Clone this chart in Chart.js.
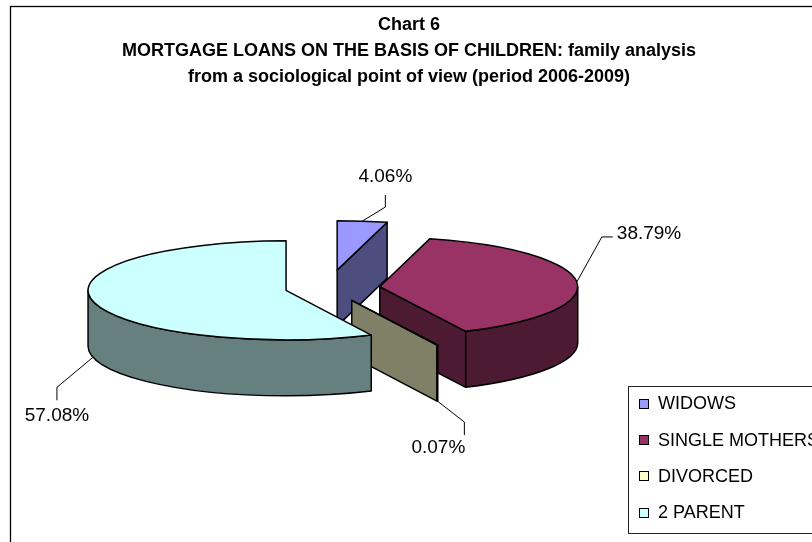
<!DOCTYPE html>
<html>
<head>
<meta charset="utf-8">
<script src="https://cdn.jsdelivr.net/npm/chart.js@4.4.1/dist/chart.umd.min.js"></script>
<style>
  html, body { margin: 0; padding: 0; background: #fff; }
  #wrap { width: 812px; height: 542px; }
</style>
</head>
<body>
<div id="wrap"><canvas id="c" width="812" height="542"></canvas></div>
<script>
// ---- data ----
const categories = ['WIDOWS', 'SINGLE MOTHERS', 'DIVORCED', '2 PARENT'];
const shares = [4.06, 38.79, 0.07, 57.08];
const titleLines = [
  'Chart 6',
  'MORTGAGE LOANS ON THE BASIS OF CHILDREN: family analysis',
  'from a sociological point of view (period 2006-2009)'
];

// ---- styling ----
const FONT = "'Liberation Sans', Arial, Helvetica, sans-serif";
const topColors = ['#9999FF', '#993366', '#FFFFCC', '#CCFFFF'];
const explodeBy = [72, 52, 55, 43];          // how far each slice is pulled out
const labelPaths = [                          // leader elbow, leader end, text anchor (relative to slice rim)
  { elbow: [23, -14], end: [23, -26], text: [23, -44], align: 'center' },
  { elbow: [25, -45], end: [36, -45], text: [40, -48], align: 'left' },
  { elbow: [27, 21],  end: [27, 34],  text: [1, 47],   align: 'center' },
  { elbow: [-36, 30], end: [-36, 43], text: [-36, 58], align: 'center' }
];

function shade(hex, f) {
  const n = parseInt(hex.slice(1), 16);
  const r = Math.round(((n >> 16) & 255) * f);
  const g = Math.round(((n >> 8) & 255) * f);
  const b = Math.round((n & 255) * f);
  return `rgb(${r},${g},${b})`;
}

// Legend drawn as its own layout box on the right side of the chart
function makeSideLegend(chart) {
  return {
    position: 'right', weight: 1000, fullSize: true, options: {},
    top: 0, left: 0, right: 0, bottom: 0, width: 0, height: 0,
    isHorizontal() { return false; },
    update(maxWidth, maxHeight) { this.width = 162; this.height = maxHeight; },
    draw() {
      const ctx = chart.ctx;
      const x0 = Math.round(this.left);
      const top = chart.height - 156, bottom = chart.height - 9;
      const colors = chart.data.datasets[0].backgroundColor;
      ctx.save();
      ctx.strokeStyle = '#222';
      ctx.lineWidth = 1;
      ctx.strokeRect(x0 + 0.5, top + 0.5, chart.width, bottom - top);
      ctx.font = `18px ${FONT}`;
      ctx.textBaseline = 'middle';
      ctx.textAlign = 'left';
      chart.data.labels.forEach((lab, i) => {
        const y = top + 17.5 + i * 36.2;
        const by = Math.round(y - 4.5);
        ctx.fillStyle = colors[i];
        ctx.fillRect(x0 + 11, by, 9, 9);
        ctx.strokeStyle = '#000';
        ctx.strokeRect(x0 + 11.5, by + 0.5, 9, 9);
        ctx.fillStyle = '#000';
        ctx.fillText(lab, x0 + 30, y + 1);
      });
      ctx.restore();
    }
  };
}

// Tilted, extruded pie built on the arcs laid out by the pie controller
const pie3d = {
  id: 'pie3d',
  beforeInit(chart) {
    if (Chart.layouts) Chart.layouts.addBox(chart, makeSideLegend(chart));
  },
  beforeDraw(chart) {
    const ctx = chart.ctx;
    ctx.save();
    ctx.fillStyle = '#fff';
    ctx.fillRect(0, 0, chart.width, chart.height);
    ctx.strokeStyle = '#000';
    ctx.lineWidth = 1.3;
    ctx.strokeRect(10.5, 6.5, chart.width + 20, chart.height + 20);
    ctx.restore();
  },
  beforeDatasetsDraw(chart, args, opts) {
    const ctx = chart.ctx;
    const meta = chart.getDatasetMeta(0);
    const tilt = opts.tilt, depth = opts.depth;
    const slices = meta.data.map((arc, i) => {
      const p = arc.getProps(['x', 'y', 'startAngle', 'endAngle', 'outerRadius'], true);
      const mid = (p.startAngle + p.endAngle) / 2;
      const d = opts.explode[i] || 0;
      return {
        i, mid,
        cx: p.x + Math.cos(mid) * d,
        cy: p.y + Math.sin(mid) * d * tilt,
        rx: p.outerRadius, ry: p.outerRadius * tilt,
        a: p.startAngle, b: p.endAngle,
        fill: arc.options.backgroundColor
      };
    });
    chart.$pie3d = slices;

    ctx.save();
    ctx.lineJoin = 'round';
    ctx.lineWidth = 1.5;
    ctx.strokeStyle = '#000';
    const paint = (fill) => { ctx.fillStyle = fill; ctx.fill(); ctx.stroke(); };

    slices.forEach(s => {
      const side = shade(s.fill, 0.5);
      const face = (t) => {
        const px = s.cx + s.rx * Math.cos(t), py = s.cy + s.ry * Math.sin(t);
        ctx.beginPath();
        ctx.moveTo(s.cx, s.cy);
        ctx.lineTo(px, py);
        ctx.lineTo(px, py + depth);
        ctx.lineTo(s.cx, s.cy + depth);
        ctx.closePath();
        paint(side);
      };
      // cut faces turned toward the viewer
      if (Math.cos(s.a) < -1e-6) face(s.a);
      if (Math.cos(s.b) > 1e-6) face(s.b);
      // front part of the curved wall
      for (let k = -1; k <= 1; k++) {
        const lo = Math.max(s.a, 2 * Math.PI * k);
        const hi = Math.min(s.b, Math.PI + 2 * Math.PI * k);
        if (hi > lo) {
          ctx.beginPath();
          ctx.ellipse(s.cx, s.cy, s.rx, s.ry, 0, lo, hi);
          ctx.ellipse(s.cx, s.cy + depth, s.rx, s.ry, 0, hi, lo, true);
          ctx.closePath();
          paint(side);
        }
      }
      // top surface
      ctx.beginPath();
      ctx.moveTo(s.cx, s.cy);
      ctx.ellipse(s.cx, s.cy, s.rx, s.ry, 0, s.a, s.b);
      ctx.closePath();
      paint(s.fill);
    });
    ctx.restore();
    return false;
  },
  afterDraw(chart, args, opts) {
    const slices = chart.$pie3d;
    if (!slices) return;
    const ctx = chart.ctx;
    const values = chart.data.datasets[0].data;
    ctx.save();
    ctx.font = `19px ${FONT}`;
    ctx.textBaseline = 'middle';
    ctx.strokeStyle = '#000';
    ctx.lineWidth = 1;
    ctx.fillStyle = '#000';
    slices.forEach(s => {
      const L = opts.labels[s.i];
      const front = Math.sin(s.mid) > 0.05;
      const ax = s.cx + s.rx * Math.cos(s.mid);
      const ay = s.cy + s.ry * Math.sin(s.mid) + (front ? opts.depth : 0);
      ctx.beginPath();
      ctx.moveTo(ax, ay);
      ctx.lineTo(ax + L.elbow[0], ay + L.elbow[1]);
      ctx.lineTo(ax + L.end[0], ay + L.end[1]);
      ctx.stroke();
      ctx.textAlign = L.align;
      ctx.fillText(values[s.i].toFixed(2) + '%', ax + L.text[0], ay + L.text[1]);
    });
    ctx.restore();
  }
};

new Chart(document.getElementById('c'), {
  type: 'pie',
  data: {
    labels: categories,
    datasets: [{
      data: shares,
      backgroundColor: topColors,
      borderWidth: 0,
      radius: 198
    }]
  },
  options: {
    responsive: false,
    animation: false,
    events: [],
    layout: { padding: { left: 28, right: 22, top: 0, bottom: 56 } },
    plugins: {
      legend: { display: false },
      tooltip: { enabled: false },
      title: {
        display: true,
        text: titleLines,
        color: '#000',
        font: { family: FONT, size: 18, weight: 'bold', lineHeight: 26 / 18 },
        padding: { top: 12, bottom: 0 }
      },
      pie3d: { tilt: 0.25, depth: 56, explode: explodeBy, labels: labelPaths }
    }
  },
  plugins: [pie3d]
});
</script>
</body>
</html>
